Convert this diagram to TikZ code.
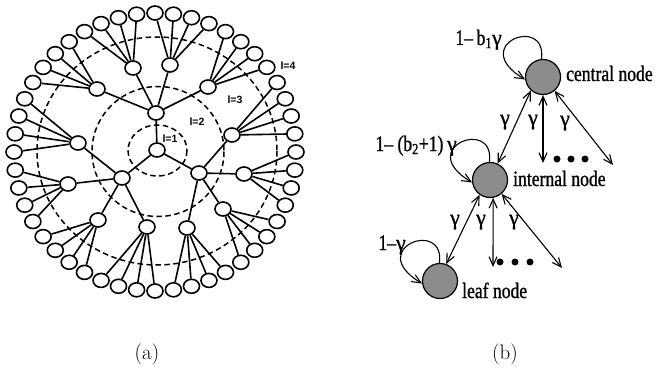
\documentclass[tikz,border=0pt]{standalone}
\usepackage{fontspec}
\newfontfamily\labelfont[FakeStretch=0.8, FakeBold=1]{Liberation Serif}
\newfontfamily\gammafont[FakeBold=1]{Liberation Serif}
\newfontfamily\ringfont{Liberation Sans}
\newcommand{\gam}{{\gammafont γ}}
\usetikzlibrary{arrows.meta, shapes.geometric, calc}

\begin{document}
\begin{tikzpicture}[
  x=1pt, y=-1pt,
  treeNode/.style={ellipse, draw, line width=1.6pt, fill=white, minimum width=16pt, minimum height=14pt, inner sep=0pt},
  treeEdge/.style={line width=1.6pt},
  ring/.style={line width=1.5pt, dash pattern=on 5.5pt off 3.5pt},
  ringLabel/.style={font=\ringfont\bfseries\fontsize{10.5}{12}\selectfont, inner sep=0pt},
  state/.style={circle, draw, line width=1.2pt, fill=black!45, minimum size=35pt, inner sep=0pt},
  stateLabel/.style={font=\labelfont\fontsize{22}{26}\selectfont, inner sep=0pt},
  arrow/.style={{Straight Barb[length=9pt,width=8pt]}-{Straight Barb[length=9pt,width=8pt]}, line width=1.1pt},
  selfLoop/.style={-{Straight Barb[length=9pt,width=8pt]}, line width=1.1pt},
  dot/.style={circle, fill=black, minimum size=7pt, inner sep=0pt},
  caption/.style={font=\fontsize{21}{24}\selectfont, inner sep=0pt},
]
\useasboundingbox (0,0) rectangle (659,369);

% ------------------- (a) tree with levels -------------------
\draw[ring] (157.5,150.5) ellipse [x radius=29.5, y radius=25.5];
\draw[ring] (158,151.5) ellipse [x radius=66, y radius=65];
\draw[ring] (157,151) ellipse [x radius=120, y radius=114];

\node[treeNode] (root) at (157,150) {};
\node[treeNode] (hubTop) at (156,113) {};
\node[treeNode] (hubRight) at (199,173) {};
\node[treeNode] (hubLeft) at (122,178) {};
\draw[treeEdge] (root) -- (hubTop);
\draw[treeEdge] (root) -- (hubRight);
\draw[treeEdge] (root) -- (hubLeft);

\foreach \i/\x/\y/\up in {0/133/68/hubTop, 1/170/65/hubTop, 2/208/87/hubTop,
    3/232/135/hubRight, 4/244/174/hubRight, 5/223/209/hubRight, 6/187/228/hubRight,
    7/147/227/hubLeft, 8/98/220/hubLeft, 9/68/184/hubLeft, 10/78/143/hubLeft,
    11/97/89/hubTop} {
  \node[treeNode] (mid\i) at (\x,\y) {};
  \draw[treeEdge] (\up) -- (mid\i);
}

% leaves, four per level-3 node
\foreach \n in {0,...,47} {
  \pgfmathtruncatemacro{\grp}{\n/4}
  \node[treeNode] (leaf\n) at ({155+141*cos(120-7.5*\n)},{152-139*sin(120-7.5*\n)}) {};
  \draw[treeEdge] (mid\grp) -- (leaf\n);
}

\node[ringLabel] (ringOne) at (170,139) {l=1};
\node[ringLabel] (ringTwo) at (197,122) {l=2};
\node[ringLabel] (ringThree) at (235,100) {l=3};
\node[ringLabel] (ringFour) at (288,66) {l=4};

% ------------------- (b) node types -------------------
\node[state] (centralNode) at (543,77) {};
\node[state] (internalNode) at (490,180) {};
\node[state] (leafNode) at (440,281) {};

\node[stateLabel, anchor=base west] (centralText) at (566,81) {central node};
\node[stateLabel, anchor=base west] (internalText) at (513,186) {internal node};
\node[stateLabel, anchor=base west] (leafText) at (462,298) {leaf node};

% self loops
\draw[selfLoop] (centralNode.95) .. controls ($(centralNode.95)+(6,-45)$) and ($(centralNode.188)+(-58,-35)$) .. (centralNode.188);
\draw[selfLoop] (internalNode.92) .. controls ($(internalNode.92)+(6,-45)$) and ($(internalNode.188)+(-58,-35)$) .. (internalNode.188);
\draw[selfLoop] (leafNode.92) .. controls ($(leafNode.92)+(6,-45)$) and ($(leafNode.188)+(-58,-35)$) .. (leafNode.188);

\node[stateLabel, anchor=base east] (centralLoop) at (502,45) {1–\,b\textsubscript{1}\gam};
\node[stateLabel, anchor=base east] (internalLoop) at (457,151) {1–\ (b\textsubscript{2}+1)\,\gam};
\node[stateLabel, anchor=base east] (leafLoop) at (406,250) {1–\gam};

% transitions
\coordinate (centralDown) at (543,163);
\coordinate (centralRight) at (613,165);
\coordinate (internalDown) at (493,267);
\coordinate (internalRight) at (562,268);

\draw[arrow] (centralNode.228) -- (internalNode.65);
\draw[arrow] (centralNode.south) -- (centralDown);
\draw[arrow] (centralNode.-50) -- (centralRight);
\draw[arrow] (internalNode.235) -- (leafNode.70);
\draw[arrow] (internalNode.-80) -- (internalDown);
\draw[arrow] (internalNode.-50) -- (internalRight);

\node[stateLabel] (gammaA) at (505,122) {\gam};
\node[stateLabel] (gammaB) at (533,122) {\gam};
\node[stateLabel] (gammaC) at (565,123) {\gam};
\node[stateLabel] (gammaD) at (455,222) {\gam};
\node[stateLabel] (gammaE) at (481,222) {\gam};
\node[stateLabel] (gammaF) at (514,222) {\gam};

\foreach \x [count=\k] in {557,571,585} \node[dot] (centralDot\k) at (\x,159) {};
\foreach \x [count=\k] in {500,515,530} \node[dot] (internalDot\k) at (\x,262) {};

% ------------------- captions -------------------
\node[caption] (capA) at (147,354) {(a)};
\node[caption] (capB) at (505,354) {(b)};

\end{tikzpicture}
\end{document}
